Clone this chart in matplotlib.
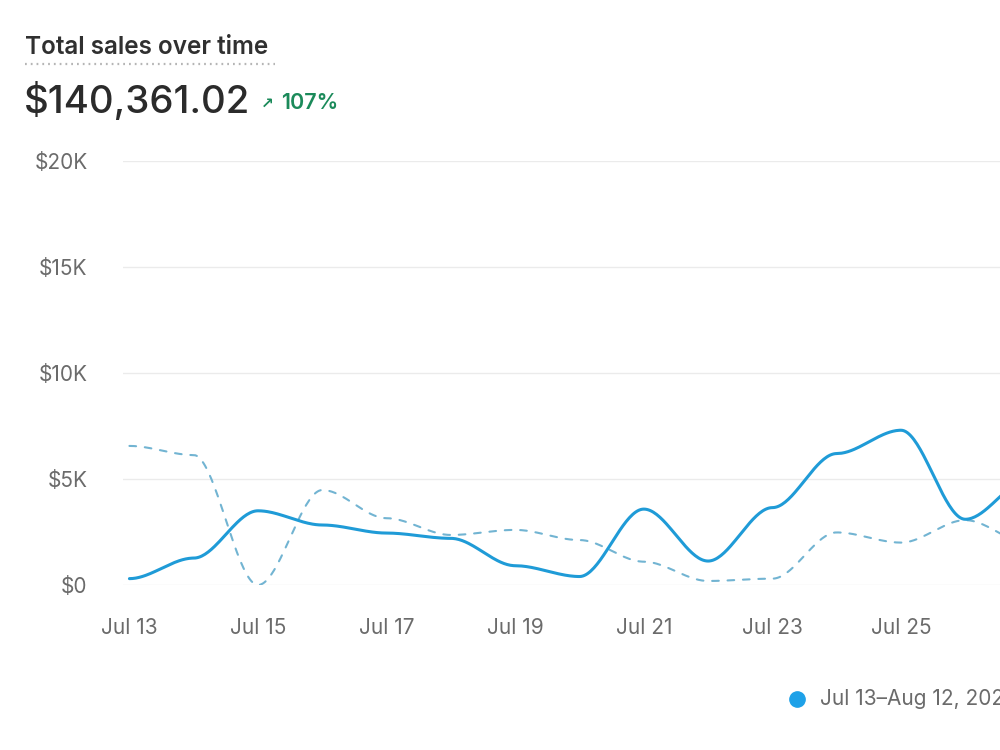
import numpy as np
import matplotlib
matplotlib.use("Agg")
import matplotlib.pyplot as plt
import matplotlib.dates as mdates
from matplotlib.lines import Line2D
import datetime as dt

plt.rcParams['font.family'] = ['Inter', 'DejaVu Sans']

# ---- data (values in $) ----
dates = [dt.date(2023, 7, d) for d in range(13, 28)]
current_sales = [300, 1270, 3500, 2830, 2450, 2200, 910, 400, 3580, 1130,
                 3650, 6200, 7300, 3100, 5000]
previous_sales = [6560, 6130, 0, 4480, 3150, 2360, 2600, 2120, 1100, 190,
                  300, 2480, 2000, 3060, 1950]
y_ticks = [0, 5000, 10000, 15000, 20000]
y_tick_labels = ["$0", "$5K", "$10K", "$15K", "$20K"]
x_tick_dates = [dt.date(2023, 7, d) for d in range(13, 28, 2)]
x_tick_labels = ["Jul %d" % d.day for d in x_tick_dates]
title = "Total sales over time"
total_text = "$140,361.02"
change_text = "107%"
legend_label = "Jul 13\u2013Aug 12, 2023"

CUR = "#1f9bd7"
PREV = "#72b4d2"
GRID = "#ebebeb"
TXT = "#6b6b6b"


def bump_curve(x, y, n=40):
    """Smooth rendering with horizontal tangents at each point (like d3 curveBumpX)."""
    x = np.asarray(x, float)
    y = np.asarray(y, float)
    xs, ys = [], []
    for i in range(len(x) - 1):
        t = np.linspace(0, 1, n, endpoint=False)
        s = 3 * t**2 - 2 * t**3
        xs.append(x[i] + t * (x[i + 1] - x[i]))
        ys.append(y[i] + s * (y[i + 1] - y[i]))
    xs.append([x[-1]])
    ys.append([y[-1]])
    return np.concatenate(xs), np.concatenate(ys)


fig = plt.figure(figsize=(10, 7.5), dpi=100)
fig.patch.set_facecolor("white")

ax = fig.add_axes([0.123, 0.22, 0.877, 1 - 161 / 750 - 0.22])
xnum = mdates.date2num(dates)
xs, ys = bump_curve(xnum, previous_sales)
ax.plot(xs, ys, color=PREV, lw=1.5, dashes=(3.2, 4.2), solid_capstyle="round",
        dash_capstyle="round", zorder=2)
xs, ys = bump_curve(xnum, current_sales)
ax.plot(xs, ys, color=CUR, lw=2.2, solid_capstyle="round", zorder=3)

ax.set_yticks(y_ticks)
ax.set_yticklabels(y_tick_labels)
ax.set_xticks(mdates.date2num(x_tick_dates))
ax.set_xticklabels(x_tick_labels)
x0 = mdates.date2num(dt.date(2023, 7, 13))
ax.set_xlim(x0 - 0.10, x0 + 13.54)
ax.set_ylim(0, 20000)
ax.tick_params(axis="both", length=0, labelsize=15, labelcolor=TXT)
ax.tick_params(axis="y", pad=25.5)
ax.tick_params(axis="x", pad=24)
for lab in ax.get_yticklabels():
    lab.set_horizontalalignment("right")
ax.grid(axis="y", color=GRID, lw=1.0)
ax.grid(axis="x", visible=False)
for s in ax.spines.values():
    s.set_visible(False)
ax.set_axisbelow(True)


def fx(px):
    return px / 1000


def fy(py):
    return 1 - py / 750


fig.text(fx(25), fy(47), title, fontsize=17.5, fontweight="semibold",
         color="#303030", va="center", ha="left")
fig.add_artist(Line2D([fx(25), fx(275)], [fy(64), fy(64)], transform=fig.transFigure,
                      color="#b5b5b5", lw=1.6, dashes=(0.8, 1.8)))
fig.text(fx(24), fy(101), total_text, fontsize=27.6, fontweight="medium",
         color="#2b2b2b", va="center", ha="left")
fig.text(fx(261), fy(103), "\u2197", fontsize=11, fontweight="bold",
         color="#1b8a5a", va="center", ha="left", family=["DejaVu Sans"])
fig.text(fx(281), fy(103), change_text, fontsize=15.5, fontweight="semibold",
         color="#1b8a5a", va="center", ha="left")

fig.add_artist(Line2D([fx(797)], [fy(699)], transform=fig.transFigure, marker="o",
                      markersize=11, color="#1ea1e8", lw=0))
fig.text(fx(820), fy(699), legend_label, fontsize=15, color=TXT,
         va="center", ha="left")

fig.savefig("out.png", dpi=100, facecolor="white")
